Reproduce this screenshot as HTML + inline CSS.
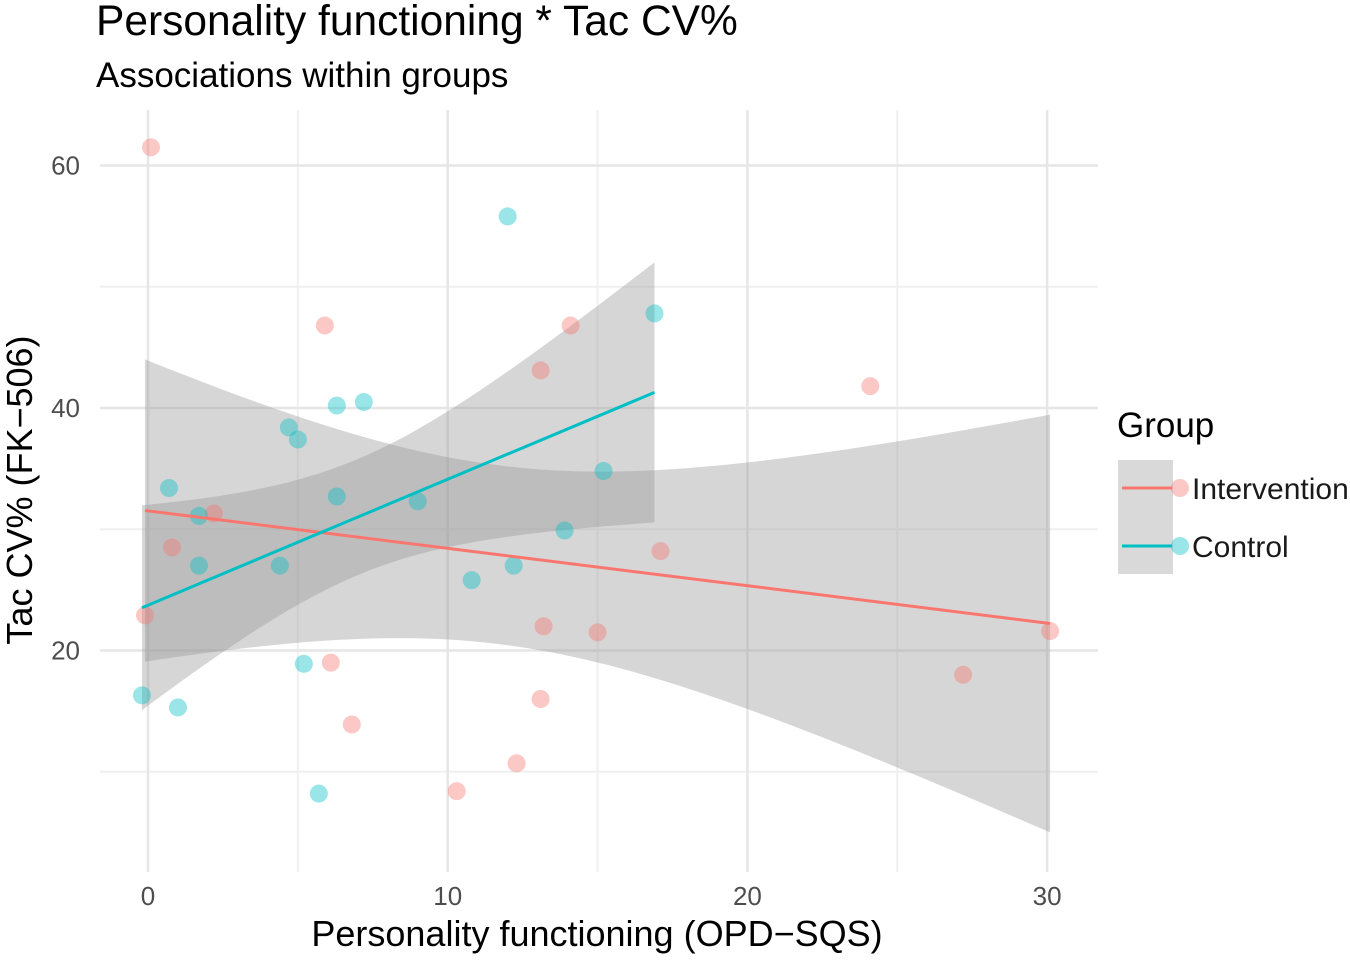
<!DOCTYPE html>
<html><head><meta charset="utf-8"><style>
body{margin:0;background:#fff;}
svg text{font-family:"Liberation Sans",sans-serif;}
</style></head><body>
<svg id="chart" width="1350" height="957" xmlns="http://www.w3.org/2000/svg">
<text x="96" y="35" font-size="42.5" fill="#000">Personality functioning * Tac CV%</text>
<text x="96" y="87" font-size="35" fill="#000">Associations within groups</text>
<g id="grid"></g>
<g id="bands"></g>
<g id="points"></g>
<g id="lines"></g>
<g id="ticks"></g>
<text x="597" y="946" font-size="36" text-anchor="middle" fill="#000">Personality functioning (OPD−SQS)</text>
<text transform="translate(32,490) rotate(-90)" font-size="36" text-anchor="middle" fill="#000">Tac CV% (FK−506)</text>
<g>
<text x="1117" y="437" font-size="35" fill="#000">Group</text>
<rect x="1118" y="460" width="55" height="114" fill="#d9d9d9"/>
<g>
<line x1="1122" y1="488" x2="1172" y2="488" stroke="#F8766D" stroke-width="3"/>
<circle cx="1180" cy="488" r="9" fill="#F8766D" fill-opacity="0.4"/>
<text x="1192" y="499" font-size="30" fill="#1a1a1a">Intervention</text></g>
<g>
<line x1="1122" y1="546" x2="1172" y2="546" stroke="#00BFC4" stroke-width="3"/>
<circle cx="1180" cy="546" r="9" fill="#00BFC4" fill-opacity="0.4"/>
<text x="1192" y="557" font-size="30" fill="#1a1a1a">Control</text></g>
</g>
</svg>
<script>
const interventionX=[0.1,5.9,14.1,13.1,24.1,2.2,0.8,17.1,-0.1,13.2,15.0,30.1,6.1,27.2,13.1,6.8,12.3,10.3];
const interventionY=[61.5,46.8,46.8,43.1,41.8,31.3,28.5,28.2,22.9,22.0,21.5,21.6,19.0,18.0,16.0,13.9,10.7,8.4];
const controlX=[12.0,16.9,6.3,7.2,4.7,5.0,15.2,0.7,6.3,9.0,1.7,13.9,1.7,4.4,12.2,10.8,5.2,-0.2,1.0,5.7];
const controlY=[55.8,47.8,40.2,40.5,38.4,37.4,34.8,33.4,32.7,32.3,31.1,29.9,27.0,27.0,27.0,25.8,18.9,16.3,15.3,8.2];
const xTicks=[0,10,20,30];
const yTicks=[20,40,60];
const NS="http://www.w3.org/2000/svg";
const sx=v=>148+v*29.97;
const sy=v=>893-v*12.125;
function mk(tag,attrs,parent){const e=document.createElementNS(NS,tag);for(const k in attrs)e.setAttribute(k,attrs[k]);parent.appendChild(e);return e;}
const grid=document.getElementById('grid');
for(let v=5;v<=25;v+=10){const l=mk('line',{x1:sx(v),x2:sx(v),y1:110,y2:872,stroke:'#f0f0f0','stroke-width':2},grid);}
for(let v=10;v<=50;v+=20){const l=mk('line',{x1:100,x2:1098,y1:sy(v),y2:sy(v),stroke:'#f0f0f0','stroke-width':2},grid);}
const ticks=document.getElementById('ticks');
xTicks.forEach(v=>{const l=mk('line',{x1:sx(v),x2:sx(v),y1:110,y2:872,stroke:'#e6e6e6','stroke-width':2.5},grid);
const t=mk('text',{x:sx(v),y:905,'font-size':26,'text-anchor':'middle',fill:'#4d4d4d'},ticks);t.textContent=v;});
yTicks.forEach(v=>{const l=mk('line',{x1:100,x2:1098,y1:sy(v),y2:sy(v),stroke:'#e6e6e6','stroke-width':2.5},grid);
const t=mk('text',{x:80,y:sy(v)+9,'font-size':26,'text-anchor':'end',fill:'#4d4d4d'},ticks);t.textContent=v;});
function fit(X,Y){const n=X.length;const mx=X.reduce((a,b)=>a+b)/n,my=Y.reduce((a,b)=>a+b)/n;let sxx=0,sxy=0;for(let i=0;i<n;i++){sxx+=(X[i]-mx)**2;sxy+=(X[i]-mx)*(Y[i]-my);}const b=sxy/sxx,a=my-b*mx;let sse=0;for(let i=0;i<n;i++)sse+=(Y[i]-a-b*X[i])**2;const s=Math.sqrt(sse/(n-2));const t=n-2<=16?2.12:2.10;return{a,b,mx,sxx,s,t,n,lo:Math.min(...X),hi:Math.max(...X)};}
const bands=document.getElementById('bands'),lines=document.getElementById('lines'),pts=document.getElementById('points');
[[interventionX,interventionY,'#F8766D','intervention'],[controlX,controlY,'#00BFC4','control']].forEach(([X,Y,c,name])=>{
const f=fit(X,Y);const up=[],dn=[];
for(let k=0;k<=80;k++){const x=f.lo+(f.hi-f.lo)*k/80;const yh=f.a+f.b*x;const h=f.t*f.s*Math.sqrt(1/f.n+(x-f.mx)**2/f.sxx);up.push(sx(x)+','+sy(yh+h));dn.unshift(sx(x)+','+sy(yh-h));}
const p=mk('polygon',{points:up.concat(dn).join(' '),fill:'#999999','fill-opacity':0.4},bands);
const l=mk('line',{x1:sx(f.lo),y1:sy(f.a+f.b*f.lo),x2:sx(f.hi),y2:sy(f.a+f.b*f.hi),stroke:c,'stroke-width':3},lines);
X.forEach((x,i)=>{const ci=mk('circle',{cx:sx(x),cy:sy(Y[i]),r:9,fill:c,'fill-opacity':0.4},pts);});
});
</script>
</body></html>
